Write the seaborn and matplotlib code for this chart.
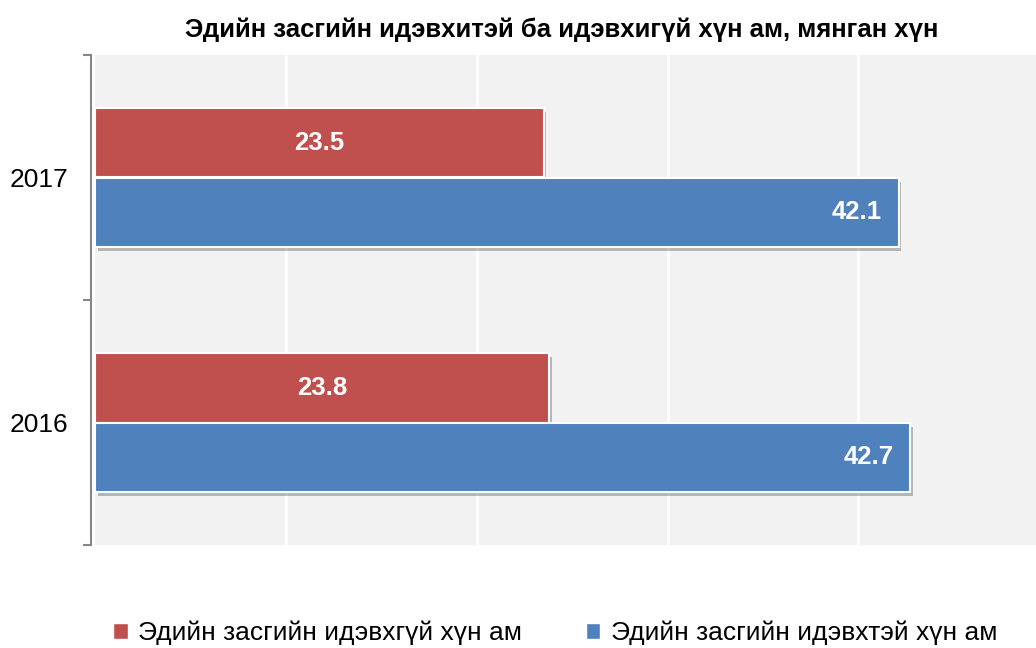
import matplotlib
matplotlib.use("Agg")
import matplotlib.pyplot as plt
import matplotlib.patheffects as pe
from matplotlib.patches import Patch
import pandas as pd
import seaborn as sns

# Өгөгдөл
years = ["2017", "2016"]
inactive = [23.5, 23.8]   # идэвхгүй
active = [42.1, 42.7]     # идэвхтэй
lbl_inactive = "Эдийн засгийн идэвхгүй хүн ам"
lbl_active = "Эдийн засгийн идэвхтэй хүн ам"
title = "Эдийн засгийн идэвхитэй ба идэвхигүй хүн ам, мянган хүн"

red = "#C0504D"
blue = "#4F81BD"

df = pd.DataFrame({
    "year": years * 2,
    "group": [lbl_inactive] * len(years) + [lbl_active] * len(years),
    "value": inactive + active,
})

sns.set_theme(style="white")
plt.rcParams["font.family"] = ["Liberation Sans", "DejaVu Sans"]
plt.rcParams["text.color"] = "black"
plt.rcParams["ytick.color"] = "black"

fig = plt.figure(figsize=(10.36, 6.48), dpi=100)
ax = fig.add_axes([95 / 1036, 1 - 545 / 648, 1 - 95 / 1036, 490 / 648])
ax.set_facecolor("#F2F2F2")

sns.barplot(data=df, y="year", x="value", hue="group", order=years,
            hue_order=[lbl_inactive, lbl_active], palette=[red, blue],
            saturation=1, orient="h", width=0.57, dodge=True, gap=0, legend=False,
            edgecolor="white", linewidth=1.5, ax=ax)

shadow = [pe.SimplePatchShadow(offset=(2, -3), shadow_rgbFace="black", alpha=0.25), pe.Normal()]
for bar in ax.patches:
    bar.set_path_effects(shadow)

ax.set_xlim(0, 49.3)
ax.set_ylim(1.5, -0.5)
ax.set_xticks([10, 20, 30, 40])
ax.xaxis.grid(True, color="white", linewidth=2)
ax.set_axisbelow(True)
ax.tick_params(axis="x", length=0, labelbottom=False)
ax.set_xlabel("")
ax.set_ylabel("")

for s in ["top", "right", "bottom"]:
    ax.spines[s].set_visible(False)
ax.spines["left"].set_color("#868686")
ax.spines["left"].set_linewidth(1.5)
ax.spines["left"].set_position(("outward", 3))

ax.set_yticks([-0.5, 0.5, 1.5], minor=True)
ax.tick_params(axis="y", which="minor", length=6, width=1.5, color="#868686", left=True)
ax.tick_params(axis="y", which="major", length=0, pad=16, labelsize=19, labelcolor="black")

# утгын шошго
red_bars = ax.containers[0]
blue_bars = ax.containers[1]
ax.bar_label(red_bars, labels=[f"{v:.1f}" for v in inactive], label_type="center",
             color="white", fontweight="bold", fontsize=18.5)
for bar, v in zip(blue_bars, active):
    ax.annotate(f"{v:.1f}", xy=(v, bar.get_y() + bar.get_height() / 2),
                xytext=(-12, 0), textcoords="offset points", ha="right", va="center",
                color="white", fontweight="bold", fontsize=18.5)

fig.text(0.542, 1 - 30 / 648, title, ha="center", va="center", fontsize=18.5,
         fontweight="bold", color="black")

handles = [Patch(facecolor=red, label=lbl_inactive), Patch(facecolor=blue, label=lbl_active)]
fig.legend(handles=handles, loc="center", bbox_to_anchor=(0.536, 1 - 633 / 648), ncol=2,
           frameon=False, fontsize=19, handlelength=0.55, handleheight=0.55,
           handletextpad=0.4, columnspacing=2.4, labelcolor="black")

fig.savefig("out.png", dpi=100)
